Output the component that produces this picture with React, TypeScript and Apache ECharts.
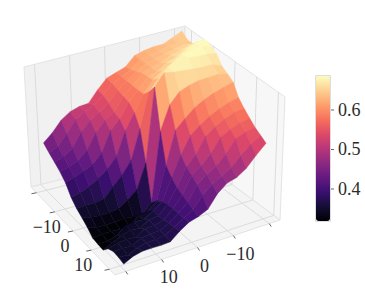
import React, { useEffect, useRef } from "react";
import * as echarts from "echarts";

// surface heights: one row per step along the front-left axis (back to front)
const row00 = [0.655,0.643,0.632,0.632,0.628,0.621,0.596,0.587,0.578,0.552,0.521,0.519,0.511,0.494,0.465,0.443];
const row01 = [0.643,0.640,0.641,0.632,0.630,0.624,0.602,0.590,0.578,0.552,0.530,0.520,0.505,0.472,0.443,0.431];
const row02 = [0.645,0.651,0.645,0.639,0.632,0.627,0.612,0.592,0.575,0.545,0.527,0.512,0.485,0.447,0.429,0.421];
const row03 = [0.666,0.662,0.655,0.650,0.636,0.630,0.622,0.594,0.572,0.535,0.520,0.492,0.450,0.427,0.417,0.410];
const row04 = [0.686,0.682,0.672,0.658,0.650,0.632,0.627,0.596,0.570,0.530,0.505,0.450,0.424,0.413,0.403,0.395];
const row05 = [0.680,0.686,0.686,0.680,0.664,0.650,0.632,0.600,0.556,0.512,0.447,0.419,0.400,0.385,0.375,0.370];
const row06 = [0.672,0.678,0.680,0.684,0.686,0.676,0.652,0.622,0.525,0.443,0.410,0.385,0.358,0.355,0.355,0.355];
const row07 = [0.650,0.662,0.664,0.667,0.671,0.675,0.682,0.650,0.443,0.375,0.355,0.338,0.335,0.335,0.338,0.345];
const row08 = [0.641,0.648,0.648,0.648,0.643,0.634,0.606,0.539,0.345,0.319,0.322,0.325,0.324,0.324,0.326,0.334];
const row09 = [0.631,0.625,0.618,0.608,0.594,0.572,0.548,0.458,0.365,0.345,0.340,0.319,0.319,0.321,0.322,0.320];
const row10 = [0.601,0.596,0.587,0.575,0.559,0.539,0.494,0.438,0.378,0.360,0.345,0.347,0.345,0.325,0.319,0.319];
const row11 = [0.584,0.582,0.572,0.560,0.542,0.500,0.474,0.425,0.386,0.362,0.360,0.345,0.348,0.342,0.330,0.319];
const row12 = [0.570,0.566,0.557,0.544,0.508,0.482,0.464,0.418,0.388,0.365,0.360,0.360,0.345,0.348,0.346,0.339];
const row13 = [0.557,0.554,0.544,0.512,0.486,0.472,0.452,0.412,0.390,0.371,0.360,0.360,0.358,0.345,0.348,0.348];
const row14 = [0.548,0.533,0.511,0.487,0.472,0.458,0.436,0.406,0.392,0.375,0.363,0.360,0.360,0.356,0.345,0.348];
const row15 = [0.539,0.515,0.488,0.472,0.466,0.446,0.412,0.401,0.395,0.379,0.359,0.359,0.361,0.362,0.357,0.345];
const surfaceRows = [row00,row01,row02,row03,row04,row05,row06,row07,row08,row09,row10,row11,row12,row13,row14,row15];

const axisTicks = [-20, -10, 0, 10, 20];
const labelledTicks = [-10, 0, 10];
const colorbarTicks = [0.4, 0.5, 0.6];
const zMin = 0.319;
const zMax = 0.686;
const magma = ["#000004","#140e36","#3b0f70","#641a80","#8c2981","#b73779","#de4968","#f7705c","#fe9f6d","#fecf92","#fcfdbf"];

type P = [number, number];
// view of the box
const fA: P = [31, 187], fB: P = [115, 275], fC: P = [280, 220], fD: P = [184, 149];
const tA: P = [24, 67], tB: P = [112, 155], tC: P = [285, 97], tD: P = [185, 26];
// footprint of the surface on the floor, and rise of its top
const sD: P = [181, 153], sC: P = [263, 224], sA: P = [46, 189], sB: P = [124, 276];
const hD: P = [1, -133], hC: P = [5, -133], hA: P = [-7, -131], hB: P = [-3, -131];
const zLow = 0.311, zHigh = 0.686;
const axisHalf = 23;

const bil = (a00: P, a10: P, a11: P, a01: P, a: number, b: number): P => [
  (1 - a) * (1 - b) * a00[0] + a * (1 - b) * a10[0] + a * b * a11[0] + (1 - a) * b * a01[0],
  (1 - a) * (1 - b) * a00[1] + a * (1 - b) * a10[1] + a * b * a11[1] + (1 - a) * b * a01[1],
];
const floorAt = (u: number, v: number) => bil(fA, fB, fC, fD, u, v);
const topAt = (u: number, v: number) => bil(tA, tB, tC, tD, u, v);
const uOf = (p: number) => (p + axisHalf) / (2 * axisHalf);
const vOf = (q: number) => (axisHalf - q) / (2 * axisHalf);
const N = surfaceRows.length - 1;
const surfPoint = (i: number, j: number): P => {
  const a = i / N, b = j / N;
  const base = bil(sD, sC, sB, sA, a, b);
  const h = bil(hD, hC, hB, hA, a, b);
  const t = (surfaceRows[i][j] - zLow) / (zHigh - zLow);
  return [base[0] + t * h[0], base[1] + t * h[1]];
};

const cells: number[][] = [];
for (let s = 0; s <= 2 * (N - 1); s++) {
  for (let i = 0; i < N; i++) {
    const j = s - i;
    if (j < 0 || j >= N) continue;
    const m = (surfaceRows[i][j] + surfaceRows[i + 1][j] + surfaceRows[i][j + 1] + surfaceRows[i + 1][j + 1]) / 4;
    cells.push([i, j, m]);
  }
}

const panes: { pts: P[]; fill: string }[] = [
  { pts: [fA, tA, tD, fD], fill: "#f1f1f1" },
  { pts: [fD, tD, tC, fC], fill: "#f7f7f7" },
  { pts: [fA, fB, fC, fD], fill: "#f4f4f4" },
];
const GRID = "#dcdcdc";
const TEXT = "#2b2b2b";
const FONT = "'Liberation Serif', serif";
const FONT_SIZE = 18;

export default function App() {
  const ref = useRef<HTMLDivElement>(null);
  useEffect(() => {
    const chart = echarts.init(ref.current!, undefined, { renderer: "svg" });
    const series: any[] = [];
    const seg = (api: any, a: P, b: P, color: string, width = 1) => {
      const c1 = api.coord(a), c2 = api.coord(b);
      return { type: "line", shape: { x1: c1[0], y1: c1[1], x2: c2[0], y2: c2[1] }, style: { stroke: color, lineWidth: width }, silent: true };
    };
    series.push({
      type: "custom", coordinateSystem: "cartesian2d", silent: true, z: 1,
      data: panes.map((_, k) => [k, 0]),
      renderItem: (params: any, api: any) => {
        const pane = panes[params.dataIndex];
        return { type: "polygon", shape: { points: pane.pts.map((p) => api.coord(p)) }, style: { fill: pane.fill, stroke: "#e4e4e4", lineWidth: 1 } };
      },
    });
    series.push({
      type: "custom", coordinateSystem: "cartesian2d", silent: true, z: 2,
      data: axisTicks.map((t) => [t, 0]),
      renderItem: (_p: any, api: any) => {
        const t = api.value(0);
        const u = uOf(t), v = vOf(t);
        const edgeA = floorAt(u, 0), edgeC = floorAt(1, v);
        return {
          type: "group",
          children: [
            seg(api, floorAt(u, 0), floorAt(u, 1), GRID),
            seg(api, floorAt(u, 1), topAt(u, 1), GRID),
            seg(api, floorAt(0, v), floorAt(1, v), GRID),
            seg(api, floorAt(0, v), topAt(0, v), GRID),
            seg(api, edgeA, [edgeA[0] - 5, edgeA[1] + 1], "#666666"),
            seg(api, edgeC, [edgeC[0] + 2, edgeC[1] + 3], "#666666"),
          ],
        };
      },
    });
    series.push({
      type: "custom", coordinateSystem: "cartesian2d", silent: true, z: 3,
      data: cells,
      renderItem: (_p: any, api: any) => {
        const i = api.value(0), j = api.value(1);
        const color = api.visual("color");
        const pts = [surfPoint(i, j), surfPoint(i + 1, j), surfPoint(i + 1, j + 1), surfPoint(i, j + 1)].map((p) => api.coord(p));
        return { type: "polygon", shape: { points: pts }, style: { fill: color, stroke: color, lineWidth: 0.5 } };
      },
    });
    series.push({
      type: "custom", coordinateSystem: "cartesian2d", silent: true, z: 4,
      data: labelledTicks.map((t) => [t, 0]),
      renderItem: (_p: any, api: any) => {
        const t = api.value(0);
        const name = t < 0 ? "\u2212" + Math.abs(t) : String(t);
        const e1 = floorAt(uOf(t), 0), e2 = floorAt(1, vOf(t));
        const c1 = api.coord([e1[0] - 8, e1[1] + 15]), c2 = api.coord([e2[0] + 7, e2[1] + 18]);
        const st = { fill: TEXT, font: `${FONT_SIZE}px ${FONT}`, align: "center", verticalAlign: "middle" };
        return {
          type: "group",
          children: [
            { type: "text", x: c1[0], y: c1[1], style: { ...st, text: name } },
            { type: "text", x: c2[0], y: c2[1], style: { ...st, text: name } },
          ],
        };
      },
    });
    const cbY = (v: number) => 76 + ((zMax - v) / (zMax - zMin)) * 145;
    series.push({
      type: "custom", coordinateSystem: "cartesian2d", silent: true, z: 5,
      data: colorbarTicks.map((t) => [t, 0]),
      renderItem: (_p: any, api: any) => {
        const t = api.value(0);
        const y = cbY(t);
        const c = api.coord([338, y]);
        return {
          type: "group",
          children: [
            seg(api, [330, y], [334, y], "#666666"),
            { type: "text", x: c[0], y: c[1], style: { text: t.toFixed(1), fill: TEXT, font: `${FONT_SIZE}px ${FONT}`, align: "left", verticalAlign: "middle" } },
          ],
        };
      },
    });
    chart.setOption({
      animation: false,
      grid: { left: 0, top: 0, width: 365, height: 298 },
      xAxis: { type: "value", min: 0, max: 365, show: false },
      yAxis: { type: "value", min: 0, max: 298, inverse: true, show: false },
      visualMap: {
        type: "continuous", min: zMin, max: zMax, dimension: 2, seriesIndex: 2, inRange: { color: magma },
        left: 316, top: 76, itemWidth: 14, itemHeight: 145, padding: 0, calculable: false, hoverLink: false, show: true,
      },
      graphic: [{ type: "rect", z: 20, silent: true, shape: { x: 315.5, y: 75.5, width: 15, height: 146 }, style: { fill: "none", stroke: "#dddddd", lineWidth: 1 } }],
      series,
    });
    return () => chart.dispose();
  }, []);
  return <div ref={ref} style={{ position: "absolute", left: 0, top: 0, width: 365, height: 298 }} />;
}
